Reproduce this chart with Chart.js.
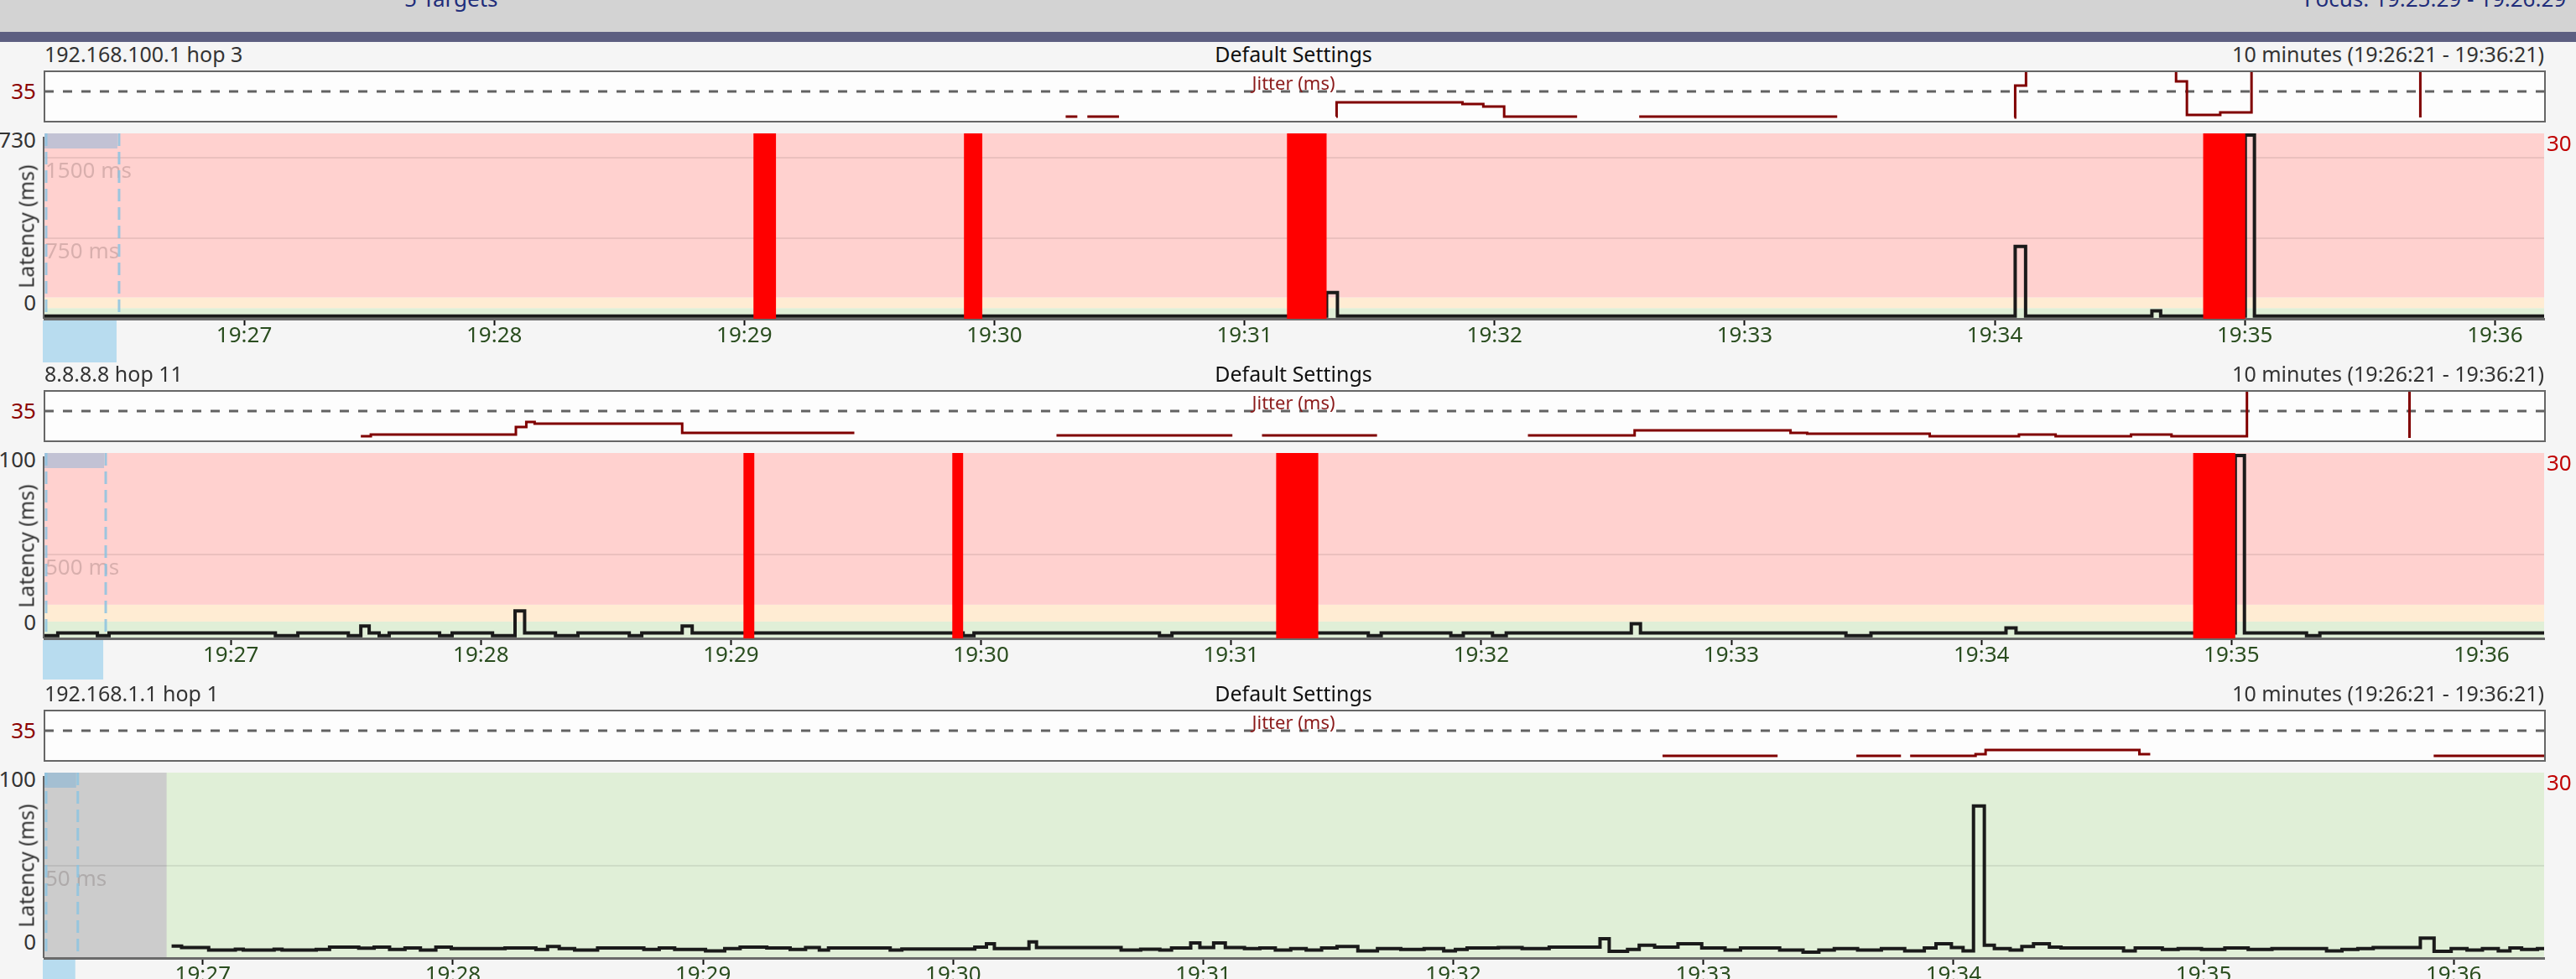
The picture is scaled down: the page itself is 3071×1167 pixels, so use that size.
<!DOCTYPE html>
<html lang="en">
<head>
<meta charset="UTF-8">
<title>Timeline - 3 targets</title>
<script src="https://cdn.jsdelivr.net/npm/chart.js"></script>
<style>
    html, body {
        margin: 0;
        padding: 0;
        overflow: hidden;
    }
    body {
        width: 3071px;
        height: 1167px;
        position: relative;
        background: #f5f5f5;
        font-family: 'Noto Sans', sans-serif;
    }
    .abs {
        position: absolute;
        white-space: nowrap;
        line-height: 1;
    }
    canvas {
        position: absolute;
    }
    .jitter-box {
        position: absolute;
        box-sizing: border-box;
        border: 2px solid #666;
        background: #fdfdfd;
    }
</style>
</head>
<body>
<div class="abs" style="left:0;top:0;width:3071px;height:38px;background:#d3d3d3;"></div>
<div class="abs" style="left:0;top:38px;width:3071px;height:12px;background:#5d5f81;"></div>
<div class="abs" style="left:482px;top:-15px;font-size:26px;color:#1f2d7a;">5 Targets</div>
<div class="abs" style="left:2747px;top:-15px;font-size:26px;color:#1f2d7a;">Focus: 19:25:29 - 19:26:29</div>

<script>
// time values are seconds after 19:26:00
const tickSeconds = [60, 120, 180, 240, 300, 360, 420, 480, 540, 600];
const tickLabels = ['19:27', '19:28', '19:29', '19:30', '19:31', '19:32', '19:33', '19:34', '19:35', '19:36'];
const bandLimits = [100, 200];          // green below, yellow between, red above (ms)
const jitterLimit = 35;
const jitterMax = 58;
const focusEnd = 30;

// 192.168.100.1 hop 3
const hop3Range = [12.1, 611.8];
const hop3Max = 1730;
const hop3Grid = [750, 1500];
const hop3LossStart = [182.2, 232.7, 310.2, 530.0];
const hop3LossEnd = [187.6, 237.1, 319.7, 540.1];
const hop3Latency = [[12.1, 25], [319.7, 245], [322.3, 25], [484.9, 676], [487.4, 25], [517.7, 74], [519.8, 25],
    [540.1, 1715], [542.3, 25], [611.8, 25]];
const hop3Jitter = [[257.1, 5], [259.9, 5], [260.0, null], [262.3, 5], [269.9, 5], [270.0, null],
    [322.0, 5], [322.1, 22], [352.3, 20], [357.3, 17], [362.3, 5], [379.8, 5], [379.9, null],
    [394.7, 5], [442.2, 5], [442.3, null],
    [484.7, 4], [484.9, 42], [487.5, 80], [487.6, null],
    [523.0, 80], [523.5, 47], [526.1, 7], [534.1, 10], [541.6, 80], [541.7, null],
    [581.9, 80], [582.1, 4], [582.2, null]];

// 8.8.8.8 hop 11
const hop11Range = [15.3, 615.0];
const hop11Max = 1100;
const hop11Grid = [500];
const hop11LossStart = [183.0, 233.1, 310.8, 530.8];
const hop11LossEnd = [185.6, 235.7, 320.9, 540.9];
const hop11Latency = [[15.3, 16], [18.5, 32], [28.0, 16], [30.8, 32], [70.7, 16], [76.1, 32], [88.2, 16], [91.2, 74],
    [93.2, 32], [95.6, 16], [98.0, 32], [110.1, 16], [113.1, 32], [122.8, 16], [128.2, 163], [130.5, 32],
    [137.9, 16], [143.3, 32], [155.6, 16], [158.6, 32], [168.3, 74], [170.7, 32], [235.7, 16], [238.3, 32],
    [282.8, 16], [285.8, 32], [332.9, 16], [336.0, 32], [352.7, 16], [355.7, 32], [362.7, 16], [366.0, 32],
    [396.0, 87], [398.2, 32], [447.5, 16], [453.5, 32], [485.9, 62], [488.3, 32], [540.9, 1085], [543.1, 32],
    [558.0, 16], [561.2, 32], [615.0, 32]];
const hop11Jitter = [[91.2, 5], [93.6, 7], [128.4, 16], [130.9, 22], [132.9, 20], [168.3, 9], [209.6, 9], [209.7, null],
    [258.1, 6], [300.3, 6], [300.4, null],
    [307.4, 6], [335.0, 6], [335.1, null],
    [371.2, 6], [396.8, 12], [434.2, 9], [438.2, 8], [467.6, 5], [489.0, 7], [497.8, 5], [515.9, 7], [525.6, 5],
    [543.7, 80], [543.8, null],
    [582.4, 80], [582.7, 3], [582.8, null]];

// 192.168.1.1 hop 1
const hop1Range = [22.0, 621.7];
const hop1Max = 100;
const hop1Grid = [50];
const hop1FirstSample = 51.3;
const hop1Latency = [[52.5, 6.5], [54.9, 5.7], [61.4, 4.3], [67.8, 4.7], [69.7, 4.3], [77.1, 4.8], [79.0, 4.3], [87.2, 4.6],
    [90.4, 5.9], [97.4, 5.3], [101.1, 5.9], [104.8, 4.6], [108.5, 5.4], [112.2, 4.3], [115.9, 5.9], [119.6, 5.1],
    [132.5, 5.4], [139.9, 4.6], [142.7, 6.2], [145.5, 5.1], [149.2, 4.3], [154.7, 5.4], [165.8, 4.6], [169.5, 5.4],
    [173.2, 4.6], [180.6, 3.9], [185.2, 5.1], [188.9, 5.9], [195.3, 5.4], [200.9, 4.6], [204.6, 5.7], [207.9, 4.3],
    [210.1, 5.4], [224.9, 4.3], [227.7, 4.9], [245.2, 5.9], [248.0, 7.7], [249.9, 5.1], [258.2, 8.7], [260.0, 5.7],
    [280.3, 4.3], [285.0, 4.8], [289.6, 4.3], [292.4, 5.4], [297.0, 8.1], [299.2, 5.7], [302.5, 8.1], [305.3, 5.7],
    [309.9, 5.1], [313.6, 5.4], [317.3, 4.3], [321.0, 5.1], [324.7, 4.3], [328.4, 5.4], [332.1, 6.2], [337.1, 3.9],
    [341.8, 5.1], [347.4, 4.6], [353.0, 5.1], [357.7, 3.9], [360.5, 4.6], [363.3, 5.4], [370.8, 5.7], [376.5, 5.1],
    [383.0, 5.9], [395.2, 10.4], [397.4, 3.6], [401.8, 4.6], [404.6, 6.9], [408.3, 5.9], [413.9, 7.7], [419.6, 5.4],
    [425.2, 4.3], [428.9, 5.4], [438.3, 4.3], [443.9, 3.2], [447.7, 4.3], [451.4, 5.1], [457.0, 4.3], [462.7, 5.1],
    [468.3, 3.9], [473.0, 5.4], [475.8, 7.7], [479.5, 5.7], [482.3, 3.9], [484.8, 82], [487.4, 6.9], [489.8, 5.1],
    [493.6, 4.3], [496.4, 6.2], [499.2, 7.7], [503.0, 5.9], [505.8, 5.4], [520.8, 3.9], [523.6, 5.4], [530.1, 4.6],
    [533.9, 5.1], [539.5, 4.6], [545.1, 5.4], [550.7, 4.6], [556.4, 5.1], [569.5, 3.9], [573.2, 4.6], [577.0, 5.1],
    [580.7, 5.7], [592.0, 10.7], [595.3, 3.6], [599.4, 5.1], [603.2, 4.3], [606.9, 5.1], [610.7, 3.9], [613.5, 5.4],
    [616.3, 4.6], [620.1, 5.1], [621.7, 5.1]];
const hop1Jitter = [[410.2, 5], [437.8, 5], [437.9, null], [456.7, 5], [467.4, 5], [467.5, null],
    [469.6, 5], [485.3, 7], [487.7, 12], [524.6, 7], [527.2, 7], [527.3, null], [595.2, 5], [622.0, 5]];

const panels = [
    { name: '192.168.100.1 hop 3', range: hop3Range, max: hop3Max, grid: hop3Grid, latency: hop3Latency,
      jitter: hop3Jitter, lossStart: hop3LossStart, lossEnd: hop3LossEnd, firstSample: null, focusDepth: 51 },
    { name: '8.8.8.8 hop 11', range: hop11Range, max: hop11Max, grid: hop11Grid, latency: hop11Latency,
      jitter: hop11Jitter, lossStart: hop11LossStart, lossEnd: hop11LossEnd, firstSample: null, focusDepth: 47 },
    { name: '192.168.1.1 hop 1', range: hop1Range, max: hop1Max, grid: hop1Grid, latency: hop1Latency,
      jitter: hop1Jitter, lossStart: [], lossEnd: [], firstSample: hop1FirstSample, focusDepth: 30 }
];

const bandColors = ['#e0efd7', '#ffecd3', '#ffd1cf'];
Chart.defaults.font.family = "'Noto Sans', sans-serif";

function pairs(list) {
    return list.map(p => ({ x: p[0], y: p[1] }));
}

function addText(text, css) {
    const d = document.createElement('div');
    d.className = 'abs';
    d.textContent = text;
    d.style.cssText += css;
    document.body.appendChild(d);
    return d;
}

function addCanvas(left, top, w, h) {
    const c = document.createElement('canvas');
    c.width = w;
    c.height = h;
    c.style.left = left + 'px';
    c.style.top = top + 'px';
    c.style.width = w + 'px';
    c.style.height = h + 'px';
    document.body.appendChild(c);
    return c;
}

// bands, loss bars, focus marks
const panelDecor = {
    id: 'panelDecor',
    beforeDraw(chart, args, o) {
        const { ctx, chartArea: a, scales: { x, y } } = chart;
        ctx.save();
        const edges = [0].concat(bandLimits, [y.max]);
        bandColors.forEach((c, i) => {
            const lo = Math.min(edges[i], y.max), hi = Math.min(edges[i + 1], y.max);
            if (hi <= lo) return;
            const top = y.getPixelForValue(hi), bot = y.getPixelForValue(lo);
            ctx.fillStyle = c;
            ctx.fillRect(a.left, top, a.right - a.left, bot - top);
        });
        if (o.firstSample != null) {
            ctx.fillStyle = '#cccccc';
            ctx.fillRect(a.left, a.top, x.getPixelForValue(o.firstSample) - a.left, a.bottom - a.top);
        }
        ctx.restore();
    },
    beforeDatasetsDraw(chart, args, o) {
        const { ctx, chartArea: a, scales: { x, y } } = chart;
        ctx.save();
        ctx.font = "26px 'Noto Sans'";
        ctx.fillStyle = 'rgba(60, 40, 40, 0.2)';
        ctx.textBaseline = 'alphabetic';
        o.grid.forEach(v => ctx.fillText(v + ' ms', a.left + 1, y.getPixelForValue(v) + 24));

        const fx = x.getPixelForValue(focusEnd);
        ctx.fillStyle = 'rgba(110, 175, 220, 0.42)';
        ctx.fillRect(a.left, a.top, fx - 2 - a.left, 18);
        ctx.strokeStyle = 'rgba(140, 195, 225, 0.85)';
        ctx.lineWidth = 3;
        ctx.setLineDash([15, 7]);
        [a.left + 2, fx].forEach(px => {
            ctx.beginPath();
            ctx.moveTo(px, a.top);
            ctx.lineTo(px, a.bottom - 8);
            ctx.stroke();
        });
        ctx.restore();
    },
    afterDatasetsDraw(chart, args, o) {
        const { ctx, chartArea: a, scales: { x } } = chart;
        ctx.save();
        ctx.fillStyle = '#ff0000';
        o.lossStart.forEach((s, i) => {
            const x0 = x.getPixelForValue(s), x1 = x.getPixelForValue(o.lossEnd[i]);
            ctx.fillRect(x0, a.top, x1 - x0, a.bottom - a.top);
        });
        ctx.fillStyle = '#666';
        ctx.fillRect(a.left - 2, a.top + 4, 2, a.bottom - a.top - 4);
        ctx.restore();
    },
    afterDraw(chart, args, o) {
        const { ctx, chartArea: a, scales: { x } } = chart;
        ctx.save();
        ctx.fillStyle = '#b8dcef';
        ctx.fillRect(a.left - 2, a.bottom + 2, x.getPixelForValue(focusEnd - 0.6) - a.left + 2, o.focusDepth);
        ctx.restore();
    }
};

const baseOptions = {
    responsive: false,
    animation: false,
    devicePixelRatio: 1,
    events: [],
    layout: { padding: { left: 10, right: 10, top: 0, bottom: 0 } }
};

panels.forEach((p, i) => {
    const dy = i * 381;

    addText(p.name, `left:53px;top:${52 + dy}px;font-size:25px;color:#333;`);
    addText('Default Settings', `left:1542px;top:${52 + dy}px;font-size:25px;color:#111;transform:translateX(-50%);`);
    addText('10 minutes (19:26:21 - 19:36:21)', `right:38px;top:${52 + dy}px;font-size:25px;color:#333;`);

    // jitter strip
    const box = document.createElement('div');
    box.className = 'jitter-box';
    box.style.cssText += `left:52px;top:${84 + dy}px;width:2983px;height:62px;`;
    document.body.appendChild(box);
    addText(String(jitterLimit), `right:3028px;top:${95 + dy}px;font-size:26px;color:#8b0000;`);

    const jc = addCanvas(43, 86 + dy, 3000, jitterMax);
    new Chart(jc, {
        type: 'line',
        data: {
            datasets: [
                { data: pairs(p.jitter), stepped: 'before', borderColor: '#800000', borderWidth: 3,
                  pointRadius: 0, spanGaps: false, borderJoinStyle: 'miter' },
                { data: [{ x: p.range[0], y: jitterLimit }, { x: p.range[1], y: jitterLimit }],
                  borderColor: '#626262', borderWidth: 3, borderDash: [11, 11], pointRadius: 0 }
            ]
        },
        options: Object.assign({}, baseOptions, {
            plugins: { legend: { display: false }, tooltip: { enabled: false } },
            scales: {
                x: { type: 'linear', min: p.range[0], max: p.range[1], display: false },
                y: { type: 'linear', min: 0, max: jitterMax, display: false }
            }
        })
    });
    addText('Jitter (ms)', `left:1542px;top:${87 + dy}px;font-size:22px;color:#8b1a1a;transform:translateX(-50%);`);

    // latency plot
    const lc = addCanvas(43, 159 + dy, 3000, 221 + 52);
    new Chart(lc, {
        type: 'line',
        data: {
            datasets: [{ data: pairs(p.latency), stepped: 'before', borderColor: '#1a1a1a', borderWidth: 4,
                         pointRadius: 0, borderJoinStyle: 'miter' }]
        },
        options: Object.assign({}, baseOptions, {
            plugins: {
                legend: { display: false },
                tooltip: { enabled: false },
                panelDecor: { grid: p.grid, lossStart: p.lossStart, lossEnd: p.lossEnd,
                              firstSample: p.firstSample, focusDepth: p.focusDepth }
            },
            scales: {
                x: {
                    type: 'linear', min: p.range[0], max: p.range[1],
                    afterBuildTicks: s => { s.ticks = tickSeconds.map(v => ({ value: v })); },
                    afterFit: s => { s.height = 52; },
                    ticks: {
                        callback: v => tickLabels[tickSeconds.indexOf(v)],
                        color: '#2a4d1f', font: { size: 26 }, padding: -3,
                        maxRotation: 0, autoSkip: false
                    },
                    grid: { drawOnChartArea: false, tickLength: 8, tickColor: '#111', tickWidth: 2 },
                    border: { display: true, color: '#6a6a6a', width: 3 }
                },
                y: {
                    type: 'linear', min: 0, max: p.max,
                    afterBuildTicks: s => { s.ticks = p.grid.map(v => ({ value: v })); },
                    afterFit: s => { s.width = 0; },
                    ticks: { display: false },
                    grid: { color: 'rgba(0, 0, 0, 0.08)', lineWidth: 2, drawTicks: false },
                    border: { display: false }
                }
            }
        }),
        plugins: [panelDecor]
    });

    addText(String(p.max), `right:3028px;top:${153 + dy}px;font-size:26px;color:#333;`);
    addText('0', `right:3028px;top:${347 + dy}px;font-size:26px;color:#333;`);
    addText('30', `left:3036px;top:${157 + dy}px;font-size:26px;color:#c00000;`);
    addText('Latency (ms)', `left:31px;top:${270 + dy}px;font-size:25px;color:#333;transform:translate(-50%,-50%) rotate(-90deg);`);
});
</script>
</body>
</html>
